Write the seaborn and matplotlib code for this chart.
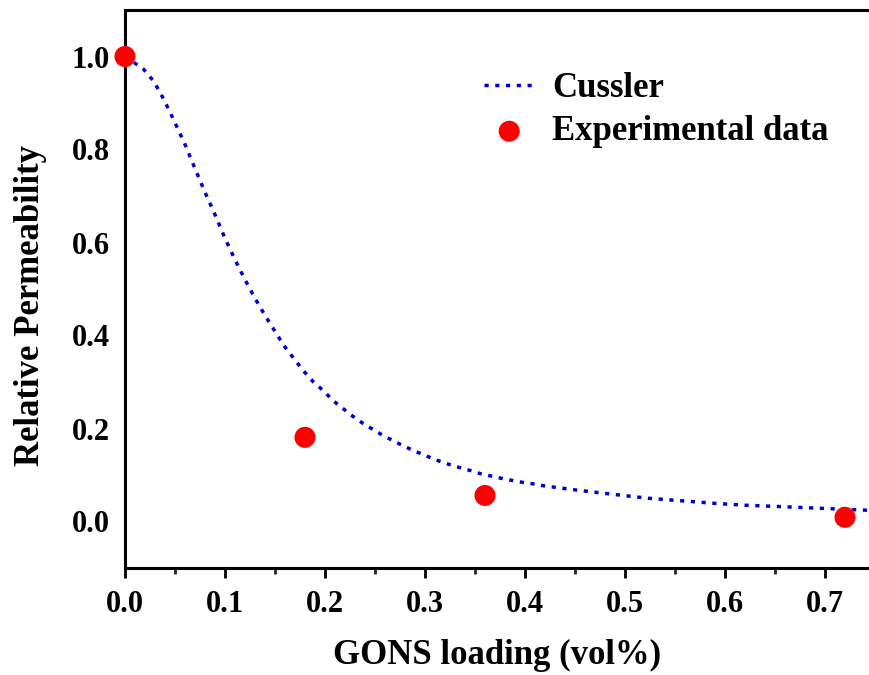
import matplotlib
matplotlib.use("Agg")
import matplotlib.pyplot as plt
import seaborn as sns
import pandas as pd
from matplotlib.ticker import MultipleLocator

# Cussler model curve
cussler_x = [0.0, 0.018, 0.029, 0.039, 0.049, 0.060, 0.070, 0.080, 0.090, 0.100,
             0.110, 0.120, 0.130, 0.140, 0.150, 0.159, 0.169, 0.178, 0.188, 0.199,
             0.208, 0.218, 0.228, 0.238, 0.248, 0.258, 0.268, 0.278, 0.288, 0.298,
             0.308, 0.318, 0.328, 0.338, 0.348, 0.358, 0.368, 0.378, 0.388, 0.398,
             0.408, 0.418, 0.45, 0.49, 0.523, 0.56, 0.59, 0.62, 0.656, 0.70, 0.745]
cussler_y = [1.0, 0.974, 0.946, 0.907, 0.862, 0.811, 0.759, 0.708, 0.660, 0.609,
             0.563, 0.520, 0.480, 0.443, 0.409, 0.378, 0.350, 0.325, 0.301, 0.280,
             0.260, 0.243, 0.226, 0.211, 0.198, 0.185, 0.174, 0.163, 0.153, 0.144,
             0.135, 0.127, 0.120, 0.114, 0.108, 0.101, 0.097, 0.092, 0.088, 0.084,
             0.081, 0.077, 0.068, 0.058, 0.050, 0.044, 0.039, 0.035, 0.032, 0.028, 0.024]

# Experimental data
exp_x = [0.0, 0.18, 0.36, 0.72]
exp_y = [1.0, 0.181, 0.056, 0.009]

xticks = [0.0, 0.1, 0.2, 0.3, 0.4, 0.5, 0.6, 0.7]
yticks = [0.0, 0.2, 0.4, 0.6, 0.8, 1.0]

sns.set_theme(style="ticks")
plt.rcParams["font.family"] = ["Liberation Serif", "DejaVu Serif"]
plt.rcParams["font.weight"] = "bold"
plt.rcParams["text.color"] = "black"
plt.rcParams["axes.labelcolor"] = "black"

fig = plt.figure(figsize=(8.7, 6.75), dpi=100)
ax = fig.add_axes([125 / 870, 107 / 675, 745 / 870, 558 / 675])

df_c = pd.DataFrame({"x": cussler_x, "y": cussler_y})
df_e = pd.DataFrame({"x": exp_x, "y": exp_y})

sns.lineplot(data=df_c, x="x", y="y", ax=ax, color="#0000cc", linewidth=2.5,
             linestyle=(0, (1.2, 1.9)), label="Cussler", sort=False, clip_on=True)
sns.scatterplot(data=df_e, x="x", y="y", ax=ax, color="#ff0000", s=230,
                edgecolor="none", label="Experimental data", clip_on=False, zorder=5)

ax.set_xlim(0, 0.745)
ax.set_ylim(-0.1, 1.1)
ax.set_xticks(xticks)
ax.set_xticklabels([f"{v:.1f}" for v in xticks])
ax.set_yticks(yticks)
ax.set_yticklabels([f"{v:.1f}" for v in yticks])
ax.xaxis.set_minor_locator(MultipleLocator(0.05))

ax.tick_params(axis="x", which="major", direction="out", length=7, width=2,
               labelsize=22, pad=9, colors="black")
ax.tick_params(axis="x", which="minor", direction="out", length=4, width=2)
ax.tick_params(axis="y", which="both", length=0, labelsize=22, pad=11, colors="black")
for lab in ax.get_xticklabels() + ax.get_yticklabels():
    lab.set_fontweight("bold")

for side in ["left", "bottom", "top"]:
    ax.spines[side].set_linewidth(2.2)
    ax.spines[side].set_color("black")
ax.spines["right"].set_visible(False)

ax.set_xlabel("GONS loading (vol%)", fontsize=25, fontweight="bold", labelpad=14,
              color="black")
ax.set_ylabel("Relative Permeability", fontsize=25, fontweight="bold",
              color="black")
ax.yaxis.set_label_coords(-0.105, 0.47)

leg = ax.legend(loc="upper left", bbox_to_anchor=(0.44, 0.945), frameon=False,
                prop={"family": "Liberation Serif", "weight": "bold", "size": 25},
                handlelength=1.45, handletextpad=0.5, labelspacing=0.3,
                markerscale=1.0)
for t in leg.get_texts():
    t.set_color("black")

fig.savefig("out.png", dpi=100)
